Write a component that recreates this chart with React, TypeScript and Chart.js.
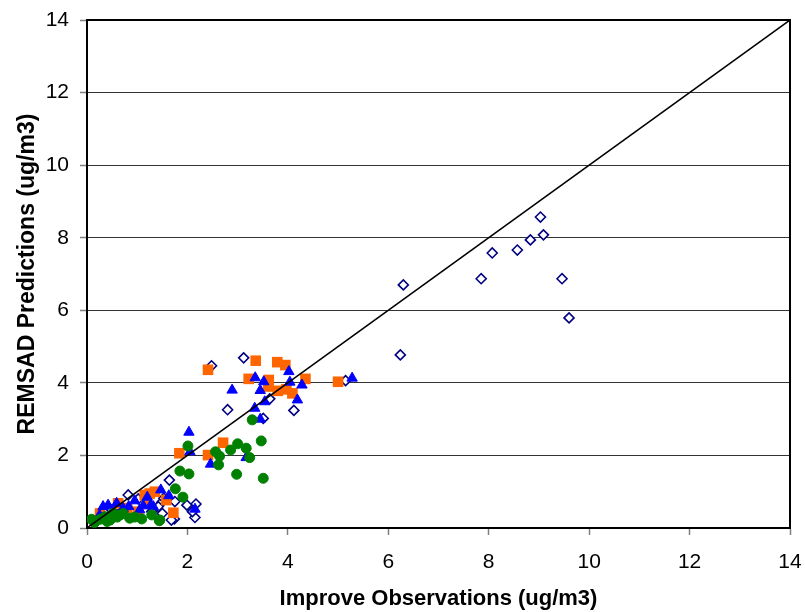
import React, { useEffect, useRef } from "react";
import { Chart, registerables } from "chart.js";

Chart.register(...registerables);

type P = [number, number];

const axisMin = 0;
const axisMax = 14;
const axisStep = 2;
const xTitle = "Improve Observations (ug/m3)";
const yTitle = "REMSAD Predictions (ug/m3)";

const oneToOne: P[] = [[0, 0], [14, 14]];

const diamonds: P[] = [
  [9.03, 8.57], [9.09, 8.08], [8.83, 7.94], [8.57, 7.66], [8.07, 7.58], [7.85, 6.87],
  [9.46, 6.87], [9.6, 5.79], [6.3, 6.7], [6.24, 4.77], [3.12, 4.69], [2.48, 4.47],
  [2.8, 3.26], [3.51, 3.02], [4.12, 3.24], [3.64, 3.56], [5.15, 4.06], [1.64, 1.32],
  [2.15, 0.29], [2.17, 0.66], [1.99, 0.63], [1.74, 0.25], [1.75, 0.73], [1.49, 0.71],
  [1.53, 0.82], [1.68, 0.22], [1.5, 0.4], [1.42, 0.59], [0.82, 0.91], [0.69, 0.4],
  [1.29, 0.45], [0.49, 0.5], [2.1, 0.45], [1.02, 0.8], [0.6, 0.62], [0.35, 0.3],
];

const triangles: P[] = [
  [5.28, 4.13], [4.02, 4.31], [4.04, 4.02], [4.28, 3.94], [4.19, 3.53], [2.03, 2.64],
  [2.89, 3.8], [3.35, 4.14], [3.52, 4.03], [3.45, 3.79], [3.34, 3.3], [3.54, 3.48],
  [3.45, 3.0], [2.05, 2.1], [2.46, 1.76], [3.17, 1.94], [1.47, 1.05], [1.63, 0.89],
  [1.12, 0.61], [1.27, 0.63], [0.83, 0.59], [2.15, 0.52], [1.32, 0.59], [0.32, 0.59],
  [0.59, 0.68], [0.72, 0.54], [0.42, 0.63], [0.95, 0.75], [1.05, 0.5], [0.5, 0.45],
  [0.25, 0.35], [1.2, 0.85],
];

const squares: P[] = [
  [5.0, 4.03], [2.41, 4.36], [3.36, 4.61], [3.79, 4.57], [3.95, 4.49], [3.22, 4.11],
  [3.62, 4.08], [3.61, 3.9], [3.8, 3.78], [3.97, 3.82], [4.09, 3.71], [4.35, 4.11],
  [2.71, 2.35], [1.84, 2.06], [2.41, 2.01], [1.72, 0.42], [1.15, 0.91], [1.35, 1.0],
  [1.19, 0.77], [1.02, 0.45], [0.62, 0.68], [0.26, 0.4], [1.58, 0.77], [1.25, 0.95],
  [0.8, 0.55],
];

const circles: P[] = [
  [3.29, 2.98], [3.47, 2.4], [2.01, 2.26], [2.56, 2.1], [2.64, 1.98], [2.86, 2.15],
  [3.0, 2.32], [3.17, 2.2], [3.24, 1.94], [2.62, 1.74], [2.98, 1.48], [3.51, 1.37],
  [1.85, 1.57], [2.03, 1.49], [1.76, 1.08], [1.91, 0.85], [1.44, 0.2], [1.29, 0.36],
  [1.09, 0.25], [0.85, 0.27], [0.66, 0.36], [0.46, 0.22], [0.26, 0.24], [0.09, 0.24],
  [0.72, 0.4], [0.52, 0.4], [0.36, 0.31], [1.45, 0.22], [0.15, 0.15], [0.6, 0.3],
  [0.95, 0.3], [0.4, 0.18],
];

const toXY = (arr: P[]) => arr.map(([x, y]) => ({ x, y }));

const borderPlugin = {
  id: "plotBorder",
  afterDatasetsDraw(chart: any) {
    const { ctx, chartArea } = chart;
    ctx.save();
    ctx.strokeStyle = "#000";
    ctx.lineWidth = 2;
    ctx.beginPath();
    ctx.moveTo(chartArea.left, chartArea.top);
    ctx.lineTo(chartArea.right, chartArea.top);
    ctx.lineTo(chartArea.right, chartArea.bottom);
    ctx.stroke();
    ctx.restore();
  },
};

export default function App() {
  const ref = useRef<HTMLCanvasElement | null>(null);
  useEffect(() => {
    if (!ref.current) return;
    const font = "'Liberation Sans', Arial, sans-serif";
    const chart = new Chart(ref.current, {
      type: "scatter",
      data: {
        datasets: [
          {
            label: "1:1",
            data: toXY(oneToOne),
            showLine: true,
            borderColor: "#000",
            borderWidth: 1.5,
            pointRadius: 0,
          },
          {
            label: "circles",
            data: toXY(circles),
            pointStyle: "circle",
            pointRadius: 5,
            backgroundColor: "#008000",
            borderColor: "#008000",
            borderWidth: 1,
          },
          {
            label: "triangles",
            data: toXY(triangles),
            pointStyle: "triangle",
            pointRadius: 6,
            backgroundColor: "#0000FF",
            borderColor: "#0000FF",
            borderWidth: 1,
          },
          {
            label: "squares",
            data: toXY(squares),
            pointStyle: "rect",
            pointRadius: 7.5,
            backgroundColor: "#FF6600",
            borderColor: "#FF6600",
            borderWidth: 0,
          },
          {
            label: "diamonds",
            data: toXY(diamonds),
            pointStyle: "rectRot",
            pointRadius: 5,
            backgroundColor: "#FFFFFF",
            borderColor: "#000080",
            borderWidth: 1.6,
          },
        ],
      },
      options: {
        animation: false,
        responsive: false,
        maintainAspectRatio: false,
        layout: { padding: { top: 20, right: 15, left: 0, bottom: 0 } },
        plugins: { legend: { display: false }, tooltip: { enabled: false } },
        scales: {
          x: {
            type: "linear",
            min: axisMin,
            max: axisMax,
            ticks: { stepSize: axisStep, color: "#000", font: { family: font, size: 21 }, padding: 15 },
            grid: { drawOnChartArea: false, tickLength: 7, tickColor: "#808080", tickWidth: 1.5 },
            border: { color: "#000", width: 2 },
            title: {
              display: true,
              text: xTitle,
              color: "#000",
              font: { family: font, size: 22, weight: "bold" },
              padding: { top: 0, bottom: 0 },
            },
            afterFit: (s: any) => {
              s.height = 84;
              s.paddingLeft = 0;
              s.paddingRight = 0;
            },
          },
          y: {
            type: "linear",
            min: axisMin,
            max: axisMax,
            ticks: { stepSize: axisStep, color: "#000", font: { family: font, size: 21 }, padding: 11 },
            grid: { color: "#333", lineWidth: 1, tickLength: 7, tickColor: "#808080", tickWidth: 1.5 },
            border: { color: "#000", width: 2 },
            title: {
              display: true,
              text: yTitle,
              color: "#000",
              font: { family: font, size: 23, weight: "bold" },
              padding: { top: 14, bottom: 0 },
            },
            afterFit: (s: any) => {
              s.width = 87;
              s.paddingTop = 0;
              s.paddingBottom = 0;
            },
          },
        },
      },
      plugins: [borderPlugin],
    } as any);
    return () => chart.destroy();
  }, []);
  return (
    <div style={{ position: "absolute", left: 0, top: 0, width: 805, height: 612, background: "#fff" }}>
      <canvas ref={ref} width={805} height={612} style={{ width: 805, height: 612 }} />
    </div>
  );
}
